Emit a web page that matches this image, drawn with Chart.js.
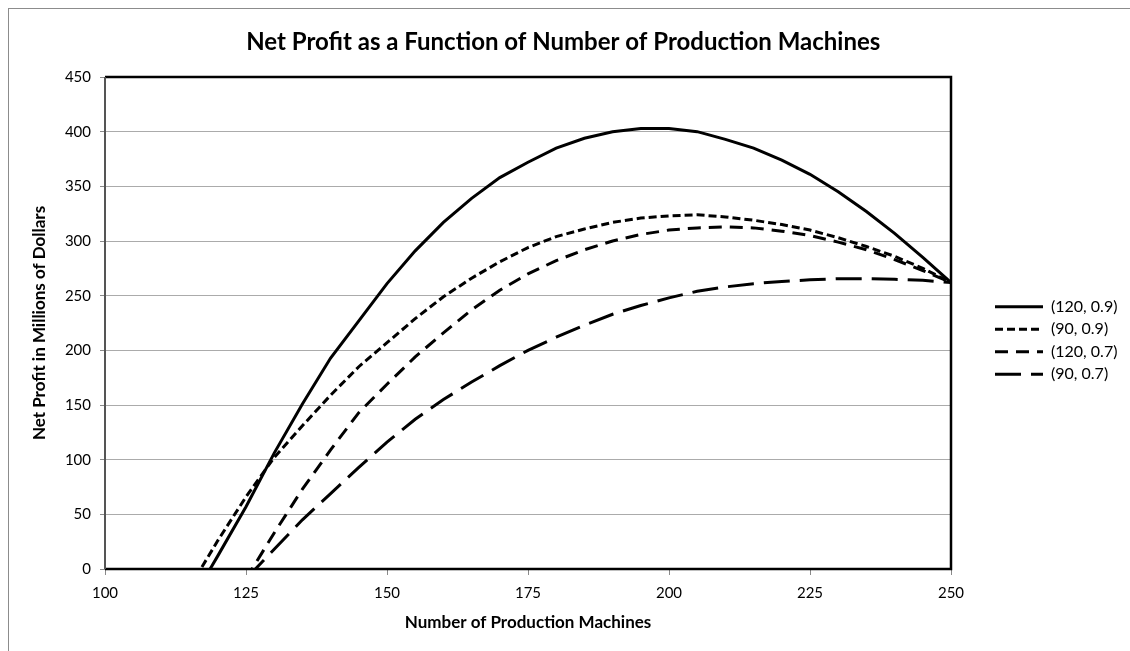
<!DOCTYPE html>
<html>
<head>
<meta charset="utf-8">
<title>Net Profit as a Function of Number of Production Machines</title>
<script src="https://cdn.jsdelivr.net/npm/chart.js@4.4.1/dist/chart.umd.min.js"></script>
<style>
    html, body { margin: 0; padding: 0; background: #fff; overflow: hidden; }
    #frame { position: absolute; left: 8px; top: 8px; width: 1200px; height: 700px; border: 1px solid #8c8c8c; }
    #canvas { position: absolute; left: 0; top: 0; }
</style>
</head>
<body>
<div id="frame"></div>
<canvas id="canvas" width="1130" height="651"></canvas>
<script>
    /* data, one value per 5 machines */
    var machines = [100, 105, 110, 115, 120, 125, 130, 135, 140, 145, 150, 155, 160, 165, 170, 175,
        180, 185, 190, 195, 200, 205, 210, 215, 220, 225, 230, 235, 240, 245, 250];

    var profit120_09 = [null, null, null, -32, 12, 57, 106, 151, 193, 227, 261, 291, 317, 339, 358, 372,
        385, 394, 400, 403, 403, 400, 393, 385, 374, 361, 345, 327, 307, 285, 262];
    var profit90_09 = [null, null, null, -17, 26, 66, 102, 131, 159, 185, 207, 229, 249, 266, 281, 294,
        304, 311, 317, 321, 323, 324, 322, 319, 315, 310, 303, 295, 286, 275, 262];
    var profit120_07 = [null, null, null, null, null, -9, 33, 73, 109, 143, 169, 194, 216, 237, 255, 270,
        282, 292, 300, 306, 310, 312, 313, 312, 309, 305, 299, 292, 283, 273, 262];
    var profit90_07 = [null, null, null, null, null, -9, 18, 45, 69, 93, 116, 137, 155, 171, 186, 200,
        212, 223, 233, 241, 248, 254, 258, 261, 263, 264.5, 265.5, 265.5, 265, 264, 262];

    var seriesNames = ["(120, 0.9)", "(90, 0.9)", "(120, 0.7)", "(90, 0.7)"];
    var seriesValues = [profit120_09, profit90_09, profit120_07, profit90_07];
    var seriesDashes = [[], [8, 4], [13, 8], [26, 10]];

    var xTicks = { min: 100, max: 250, step: 25 };
    var yTicks = { min: 0, max: 450, step: 50 };

    var toPoints = function (values) {
        var pts = [];
        for (var i = 0; i < machines.length; i++) {
            pts.push({ x: machines[i], y: values[i] });
        }
        return pts;
    };

    var datasets = [];
    for (var s = 0; s < seriesNames.length; s++) {
        datasets.push({
            label: seriesNames[s],
            data: toPoints(seriesValues[s]),
            borderColor: "#000",
            backgroundColor: "#000",
            borderWidth: 3,
            borderDash: seriesDashes[s],
            pointRadius: 0,
            tension: 0,
            fill: false,
            xAxisID: "x",
            yAxisID: "y"
        });
    }

    // frame around the plot area
    var plotFrame = {
        id: "plotFrame",
        afterDatasetsDraw: function (chart) {
            var a = chart.chartArea, ctx = chart.ctx;
            ctx.save();
            ctx.strokeStyle = "#000";
            ctx.lineWidth = 2.5;
            ctx.beginPath();
            ctx.moveTo(a.left, a.top);
            ctx.lineTo(a.right, a.top);
            ctx.lineTo(a.right, a.bottom);
            ctx.lineTo(a.left, a.bottom);
            ctx.stroke();
            ctx.strokeStyle = "#555";
            ctx.lineWidth = 2;
            ctx.beginPath();
            ctx.moveTo(a.left, a.top);
            ctx.lineTo(a.left, a.bottom);
            ctx.stroke();
            ctx.restore();
        }
    };

    Chart.defaults.font.family = "Lato";
    Chart.defaults.color = "#000";

    var config = {
        type: "line",
        data: { datasets: datasets },
        options: {
            responsive: false,
            animation: false,
            layout: { padding: { left: 0, right: 3.5, top: 30, bottom: 0 } },
            plugins: {
                title: {
                    display: true,
                    text: "Net Profit as a Function of Number of Production Machines",
                    font: { size: 24, weight: "bold", lineHeight: 1 },
                    color: "#000",
                    padding: { top: 0, bottom: 23 }
                },
                legend: {
                    position: "right",
                    maxWidth: 138,
                    labels: {
                        usePointStyle: true,
                        pointStyle: "line",
                        pointStyleWidth: 48,
                        padding: 6.5,
                        font: { size: 16 },
                        color: "#000",
                        generateLabels: function (chart) {
                            var items = Chart.defaults.plugins.legend.labels.generateLabels(chart);
                            items.forEach(function (item) {
                                var ds = chart.data.datasets[item.datasetIndex];
                                item.lineDash = ds.borderDash;
                                item.lineWidth = ds.borderWidth;
                                item.strokeStyle = ds.borderColor;
                                item.pointStyle = "line";
                            });
                            return items;
                        }
                    }
                },
                tooltip: { enabled: false }
            },
            scales: {
                x: {
                    type: "linear",
                    position: "bottom",
                    min: xTicks.min,
                    max: xTicks.max,
                    ticks: { stepSize: xTicks.step, padding: 9, font: { size: 15 }, color: "#000", maxRotation: 0 },
                    grid: { drawOnChartArea: false, drawTicks: true, tickLength: 6, tickColor: "#8a8a8a" },
                    border: { display: false },
                    title: {
                        display: true,
                        text: "Number of Production Machines",
                        font: { size: 17, weight: "bold" },
                        color: "#000",
                        padding: { top: 4, bottom: 18 }
                    },
                    afterFit: function (scale) { scale.height = 82; }
                },
                y: {
                    type: "linear",
                    position: "left",
                    min: yTicks.min,
                    max: yTicks.max,
                    ticks: { stepSize: yTicks.step, padding: 9, font: { size: 15 }, color: "#000" },
                    grid: { color: "#ababab", lineWidth: 1, drawTicks: true, tickLength: 5, tickColor: "#8a8a8a" },
                    border: { display: false },
                    title: {
                        display: true,
                        text: "Net Profit in Millions of Dollars",
                        font: { size: 17, weight: "bold" },
                        color: "#000",
                        padding: { top: 29, bottom: 0 }
                    },
                    afterFit: function (scale) { scale.width = 105; }
                },
                y2: {
                    type: "linear",
                    position: "right",
                    min: 0,
                    max: 1,
                    ticks: { display: false },
                    grid: { display: false },
                    border: { display: false },
                    afterFit: function (scale) { scale.width = 37.5; }
                }
            }
        },
        plugins: [plotFrame]
    };

    var ctx = document.getElementById("canvas").getContext("2d");
    new Chart(ctx, config);
</script>
</body>
</html>
